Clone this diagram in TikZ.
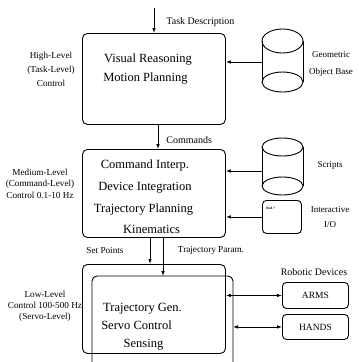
\documentclass[tikz,border=0pt]{standalone}
\usepackage{fontspec}
\setmainfont{Liberation Serif}
\usetikzlibrary{arrows.meta}
\begin{document}
\begin{tikzpicture}[x=1pt,y=-1pt,line width=0.9pt,
  boxr/.style={draw,rounded corners=5pt,anchor=north west,inner sep=0pt},
  maintxt/.style={font=\fontsize{12.5}{15}\selectfont,anchor=base,inner sep=0pt},
  lbl/.style={font=\fontsize{10}{12}\selectfont,inner sep=0pt},
  sidelbl/.style={font=\fontsize{9.2}{11}\selectfont,inner sep=0pt,align=center},
  rlbl/.style={font=\fontsize{9}{11}\selectfont,inner sep=0pt,align=center},
  arr/.style={-{Latex[length=5pt,width=3.6pt]}},
  darr/.style={{Latex[length=5pt,width=3.6pt]}-{Latex[length=5pt,width=3.6pt]}}]
\useasboundingbox (0,0) rectangle (359,362);
\clip (0,0) rectangle (359,362);

% main boxes
\node[boxr,minimum width=143pt,minimum height=91pt] (box1) at (82,33) {};
\node[boxr,minimum width=143pt,minimum height=88pt] (box2) at (82,149) {};
\node[boxr,minimum width=143pt,minimum height=89pt] (box3) at (82,264) {};
% inner low-level box (open below the picture)
\coordinate (innerNW) at (92,276);
\coordinate (innerNE) at (233,276);
\draw[rounded corners=5pt] (92,370) -- (innerNW) -- (innerNE) -- (233,370);

% box texts
\node[maintxt] (t1a) at (148,62) {Visual Reasoning};
\node[maintxt] (t1b) at (145.5,81) {Motion Planning};
\node[maintxt] (t2a) at (145,168) {Command Interp.};
\node[maintxt] (t2b) at (145,190) {Device Integration};
\node[maintxt] (t2c) at (143.5,212) {Trajectory Planning};
\node[maintxt] (t2d) at (151.5,233) {Kinematics};
\node[maintxt] (t3a) at (142.5,311) {Trajectory Gen.};
\node[maintxt] (t3b) at (136.5,329) {Servo Control};
\node[maintxt] (t3c) at (143.5,347) {Sensing};

% left labels
\node[sidelbl,font=\fontsize{9.2}{14}\selectfont] (hl) at (51,69) {High-Level\\(Task-Level)\\Control};
\node[sidelbl,font=\fontsize{9.2}{11.5}\selectfont] (ml) at (40,183.5) {Medium-Level\\(Command-Level)\\Control 0.1-10 Hz};
\node[sidelbl,font=\fontsize{9.2}{11}\selectfont] (ll) at (45,306) {Low-Level\\Control 100-500 Hz\\(Servo-Level)};

% vertical arrows
\coordinate (taskin) at (154,8);
\draw[arr] (taskin) -- (taskin |- box1.north);
\node[lbl,anchor=west] (tasklbl) at (166,22) {Task Description};
\coordinate (cmdx) at (158,0);
\draw[arr] (cmdx |- box1.south) -- (cmdx |- box2.north);
\node[lbl,anchor=west] (cmdlbl) at (166,140) {Commands};
\coordinate (spx) at (150,0);
\coordinate (tpx) at (163,0);
\draw[arr] (spx |- box2.south) -- (spx |- box3.north);
\draw[arr] (tpx |- box2.south) -- (tpx |- innerNE);
\node[lbl,font=\fontsize{9.2}{11}\selectfont] (splbl) at (105,250) {Set Points};
\node[lbl,font=\fontsize{9.2}{11}\selectfont] (tplbl) at (211,250) {Trajectory Param.};

% cylinders
\draw (262,41) -- (262,82) (303,41) -- (303,82);
\draw (282.5,41) ellipse [x radius=20.5, y radius=12];
\draw (282.5,82) ellipse [x radius=20.5, y radius=10];
\coordinate (cyl1w) at (262,62);
\draw (262,147) -- (262,186) (303,147) -- (303,186);
\draw (282.5,147) ellipse [x radius=20.5, y radius=9];
\draw (282.5,186) ellipse [x radius=20.5, y radius=9];
\coordinate (cyl2w) at (262,171);
\draw[arr] (cyl1w) -- (cyl1w -| box1.east);
\draw[arr] (cyl2w) -- (cyl2w -| box2.east);

% interactive I/O box
\node[boxr,rounded corners=4pt,minimum width=39pt,minimum height=33pt] (io) at (262,200) {};
\node[inner sep=0pt,anchor=west,font=\fontsize{3.5}{4}\selectfont\bfseries] (iotxt) at (266,208) {Bed ?};
\draw[arr] (io.west) -- (io.west -| box2.east);

% right labels
\node[rlbl,font=\fontsize{9}{17}\selectfont] (geo) at (331,64) {Geometric\\Object Base};
\node[rlbl] (scr) at (330,165) {Scripts};
\node[rlbl,font=\fontsize{9}{15}\selectfont] (iol) at (330,217.5) {Interactive\\I/O};

% robotic devices
\node[lbl] (robl) at (314,272) {Robotic Devices};
\node[boxr,rounded corners=4pt,minimum width=66pt,minimum height=26pt,font=\fontsize{9.5}{11}\selectfont] (arms) at (282,282) {ARMS};
\node[boxr,rounded corners=4pt,minimum width=66pt,minimum height=25pt,font=\fontsize{9.5}{11}\selectfont] (hands) at (282,314) {HANDS};
\draw[darr] (arms.west -| box3.east) -- (arms.west);
\draw[darr] (innerNE |- hands.west) -- (hands.west);
\end{tikzpicture}
\end{document}
